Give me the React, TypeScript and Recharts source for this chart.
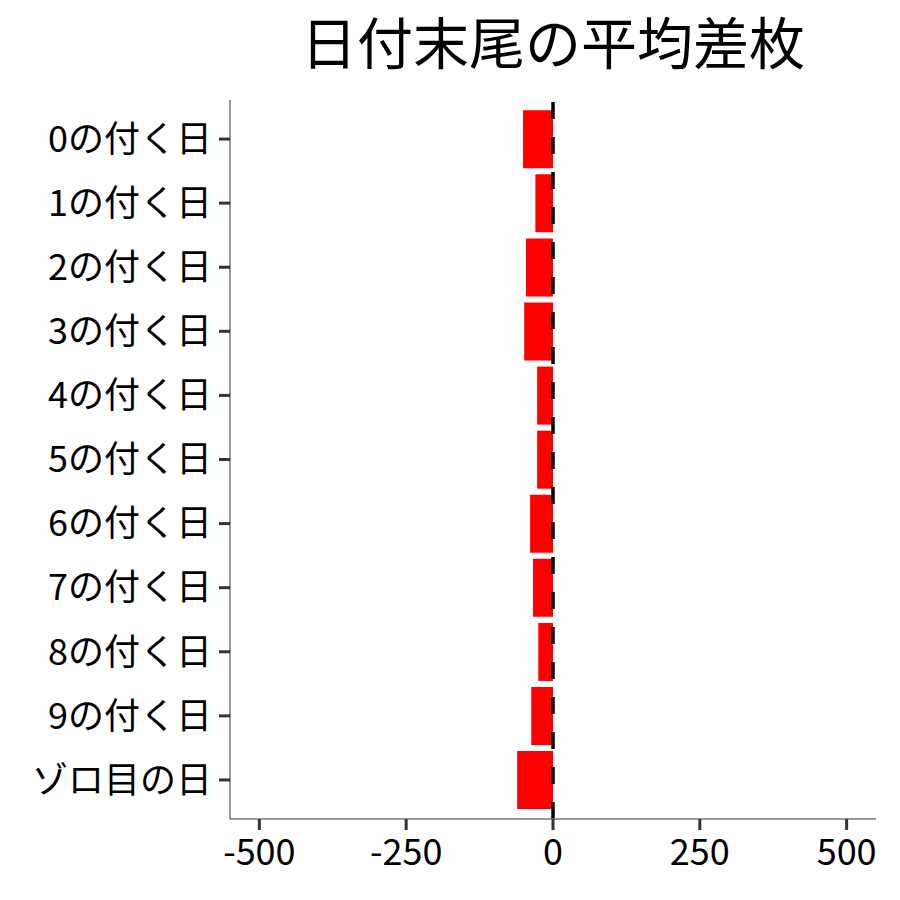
import { BarChart, Bar, XAxis, YAxis, ReferenceLine } from "recharts";

const categories = [
  "0の付く日",
  "1の付く日",
  "2の付く日",
  "3の付く日",
  "4の付く日",
  "5の付く日",
  "6の付く日",
  "7の付く日",
  "8の付く日",
  "9の付く日",
  "ゾロ目の日",
];
const avgDiff = [-51, -30, -46, -49, -27, -27, -39, -34, -25, -37, -61];
const xTicks = [-500, -250, 0, 250, 500];

const data = categories.map((name, i) => ({ name, value: avgDiff[i] }));

const FONT = "'Noto Sans CJK JP', 'Noto Sans', sans-serif";

export default function App() {
  return (
    <div style={{ position: "absolute", left: 0, top: 0, width: 900, height: 900, background: "#fff" }}>
      <div
        style={{
          position: "absolute",
          left: 230,
          width: 646,
          top: 0,
          textAlign: "center",
          fontFamily: FONT,
          fontSize: 56,
          lineHeight: "80px",
          color: "#000",
        }}
      >
        日付末尾の平均差枚
      </div>
      <BarChart
        width={900}
        height={900}
        data={data}
        layout="vertical"
        barCategoryGap="5%"
        margin={{ top: 100, right: 24, left: 0, bottom: 0 }}
      >
        <XAxis
          type="number"
          domain={[-550, 550]}
          ticks={xTicks}
          allowDataOverflow
          height={81}
          tick={{ fill: "#000", fontSize: 36, fontFamily: FONT }}
          tickSize={11}
          tickMargin={9}
          tickLine={{ stroke: "#333", strokeWidth: 3 }}
          axisLine={{ stroke: "#777", strokeWidth: 1.5 }}
        />
        <YAxis
          type="category"
          dataKey="name"
          width={230}
          padding={{ top: 7, bottom: 7 }}
          interval={0}
          tick={{ fill: "#000", fontSize: 36, fontFamily: FONT }}
          tickSize={11}
          tickMargin={7}
          tickLine={{ stroke: "#333", strokeWidth: 3 }}
          axisLine={{ stroke: "#777", strokeWidth: 1.5 }}
        />
        <Bar dataKey="value" fill="#FF0000" isAnimationActive={false} />
        <ReferenceLine x={0} stroke="#000" strokeWidth={3.5} strokeDasharray="17 18" />
      </BarChart>
    </div>
  );
}
